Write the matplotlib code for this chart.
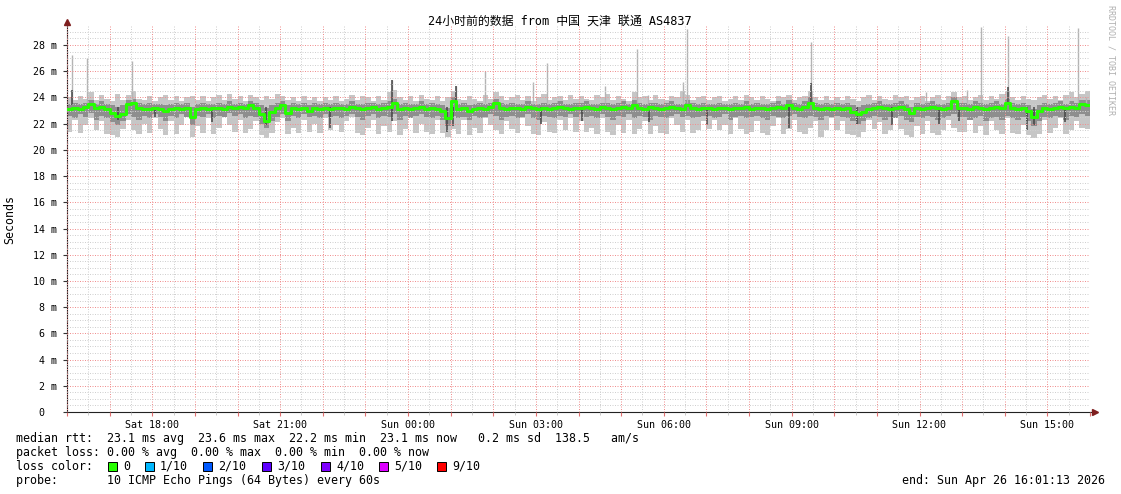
import numpy as np
import matplotlib
matplotlib.use("Agg")
from matplotlib import pyplot as plt
from matplotlib.patches import Rectangle

# --- data (hours after Sat 16:00, one sample every 7.5 min) ---
step_h = 0.125

median = [
    23.1, 23.2, 23.1, 23.3, 23.5, 23.2, 23.3, 23.1, 22.8, 22.6, 22.7, 23.5, 23.6, 23.2, 23.1, 23.1, 23.2, 23.1, 23.0, 23.1, 23.2, 23.1, 23.2, 22.5,
    23.1, 23.2, 23.1, 23.2, 23.2, 23.1, 23.3, 23.2, 23.3, 23.2, 23.4, 23.2, 22.7, 22.2, 22.9, 23.2, 23.4, 22.8, 23.2, 23.1, 23.2, 23.0, 23.2, 23.1,
    23.2, 23.1, 23.2, 23.2, 23.1, 23.3, 23.2, 23.1, 23.2, 23.3, 23.1, 23.2, 23.3, 23.6, 23.1, 23.2, 23.1, 23.2, 23.3, 23.1, 23.2, 23.1, 23.0, 22.4,
    23.7, 23.1, 23.2, 23.0, 23.1, 23.2, 23.1, 23.3, 23.6, 23.2, 23.1, 23.2, 23.2, 23.1, 23.3, 23.2, 23.1, 23.2, 23.1, 23.2, 23.3, 23.2, 23.1, 23.2,
    23.2, 23.3, 23.2, 23.1, 23.3, 23.2, 23.1, 23.2, 23.3, 23.2, 23.4, 23.2, 23.1, 23.3, 23.2, 23.1, 23.2, 23.3, 23.2, 23.1, 23.4, 23.2, 23.1, 23.2,
    23.2, 23.1, 23.2, 23.2, 23.1, 23.2, 23.2, 23.3, 23.1, 23.2, 23.2, 23.1, 23.2, 23.3, 23.2, 23.4, 23.2, 23.1, 23.3, 23.6, 23.2, 23.1, 23.2, 23.1,
    23.2, 23.1, 23.2, 22.9, 22.7, 22.9, 23.1, 23.2, 23.3, 23.2, 23.1, 23.2, 23.3, 23.1, 22.8, 23.2, 23.1, 23.2, 23.3, 23.2, 23.1, 23.2, 23.7, 23.2,
    23.2, 23.1, 23.3, 23.2, 23.1, 23.2, 23.3, 23.2, 23.6, 23.2, 23.1, 23.2, 23.0, 22.5, 23.0, 23.2, 23.1, 23.2, 23.3, 23.2, 23.3, 23.2, 23.5, 23.4,
]

ping_max = [
    24.0, 23.8, 24.1, 23.9, 24.4, 23.8, 24.2, 23.9, 23.7, 24.3, 23.8, 24.2, 24.5, 23.9, 23.8, 24.1, 23.7, 24.0, 24.2, 23.8, 24.1, 23.7, 24.0, 24.1,
    23.8, 24.1, 23.7, 24.0, 24.2, 23.8, 24.3, 23.9, 24.1, 23.7, 24.2, 24.0, 23.8, 24.1, 23.9, 24.3, 24.1, 23.8, 24.0, 23.7, 24.1, 23.8, 24.0, 23.7,
    24.0, 23.8, 24.1, 23.7, 23.9, 24.2, 23.8, 24.1, 24.0, 23.7, 24.1, 23.8, 24.4, 24.6, 24.0, 23.8, 24.1, 23.7, 24.2, 23.9, 23.8, 24.1, 23.7, 24.0,
    24.5, 23.9, 23.8, 24.1, 23.9, 23.7, 24.2, 23.9, 24.4, 24.1, 23.8, 24.0, 24.2, 23.8, 24.1, 23.7, 24.0, 24.3, 23.8, 24.0, 24.1, 23.8, 24.2, 23.9,
    24.1, 23.9, 23.8, 24.2, 24.0, 24.3, 23.8, 24.1, 23.9, 23.7, 24.4, 24.0, 24.1, 23.8, 24.2, 23.9, 23.8, 24.1, 24.0, 24.5, 24.2, 23.8, 24.0, 24.1,
    23.8, 24.0, 24.1, 23.7, 23.9, 24.1, 23.8, 24.2, 24.0, 23.8, 24.1, 23.9, 23.7, 24.1, 24.0, 24.2, 23.8, 24.0, 24.1, 24.5, 24.0, 23.8, 24.1, 23.8,
    24.0, 23.8, 24.1, 23.9, 23.7, 24.0, 24.2, 23.8, 24.1, 23.9, 23.8, 24.2, 24.0, 24.1, 23.8, 24.0, 24.1, 23.7, 24.0, 24.2, 23.8, 24.1, 24.4, 24.0,
    24.1, 23.8, 24.0, 24.2, 23.8, 24.1, 23.9, 24.3, 24.5, 24.0, 23.8, 24.1, 23.9, 23.8, 24.0, 24.2, 23.9, 24.1, 23.8, 24.2, 24.4, 24.0, 24.3, 24.5,
]

ping_q3 = [
    23.5, 23.6, 23.5, 23.6, 23.8, 23.5, 23.7, 23.5, 23.4, 23.3, 23.4, 23.8, 23.9, 23.6, 23.5, 23.6, 23.5, 23.5, 23.4, 23.5, 23.6, 23.5, 23.6, 23.3,
    23.5, 23.6, 23.5, 23.5, 23.6, 23.5, 23.7, 23.5, 23.6, 23.5, 23.7, 23.6, 23.4, 23.2, 23.4, 23.6, 23.7, 23.4, 23.6, 23.5, 23.6, 23.4, 23.6, 23.5,
    23.6, 23.5, 23.6, 23.5, 23.5, 23.7, 23.5, 23.5, 23.6, 23.6, 23.5, 23.6, 23.7, 23.9, 23.5, 23.6, 23.5, 23.5, 23.7, 23.5, 23.6, 23.5, 23.4, 23.2,
    24.0, 23.5, 23.6, 23.4, 23.5, 23.6, 23.5, 23.6, 23.9, 23.6, 23.5, 23.6, 23.5, 23.5, 23.7, 23.5, 23.5, 23.6, 23.5, 23.6, 23.7, 23.5, 23.5, 23.6,
    23.6, 23.7, 23.5, 23.5, 23.6, 23.6, 23.5, 23.6, 23.7, 23.5, 23.8, 23.6, 23.5, 23.6, 23.6, 23.5, 23.6, 23.7, 23.5, 23.5, 23.8, 23.6, 23.5, 23.6,
    23.5, 23.5, 23.6, 23.5, 23.5, 23.6, 23.5, 23.7, 23.5, 23.6, 23.5, 23.5, 23.6, 23.7, 23.5, 23.8, 23.6, 23.5, 23.7, 24.0, 23.6, 23.5, 23.6, 23.5,
    23.6, 23.5, 23.6, 23.4, 23.3, 23.4, 23.5, 23.6, 23.7, 23.5, 23.5, 23.6, 23.7, 23.5, 23.3, 23.6, 23.5, 23.6, 23.7, 23.5, 23.5, 23.6, 24.0, 23.6,
    23.6, 23.5, 23.7, 23.6, 23.5, 23.6, 23.7, 23.5, 23.9, 23.6, 23.5, 23.6, 23.4, 23.1, 23.4, 23.6, 23.5, 23.6, 23.7, 23.5, 23.7, 23.6, 23.8, 23.8,
]

ping_q1 = [
    22.6, 22.4, 22.7, 22.5, 22.8, 22.3, 22.6, 22.4, 22.1, 21.9, 22.2, 22.7, 22.5, 22.3, 22.6, 22.4, 22.7, 22.5, 22.2, 22.6, 22.4, 22.7, 22.5, 21.9,
    22.6, 22.5, 22.7, 22.4, 22.6, 22.5, 22.8, 22.6, 22.7, 22.4, 22.6, 22.5, 22.0, 21.7, 22.2, 22.5, 22.7, 22.2, 22.6, 22.4, 22.7, 22.5, 22.6, 22.4,
    22.7, 22.5, 22.6, 22.4, 22.6, 22.7, 22.5, 22.3, 22.6, 22.7, 22.4, 22.6, 22.5, 22.7, 22.3, 22.6, 22.4, 22.6, 22.7, 22.5, 22.4, 22.6, 22.3, 21.8,
    22.6, 22.4, 22.5, 22.3, 22.6, 22.4, 22.5, 22.7, 22.6, 22.3, 22.5, 22.6, 22.4, 22.5, 22.7, 22.4, 22.3, 22.6, 22.5, 22.4, 22.6, 22.5, 22.7, 22.5,
    22.7, 22.5, 22.6, 22.4, 22.7, 22.5, 22.3, 22.6, 22.5, 22.7, 22.4, 22.6, 22.5, 22.3, 22.6, 22.5, 22.4, 22.6, 22.7, 22.5, 22.6, 22.4, 22.5, 22.6,
    22.6, 22.4, 22.5, 22.7, 22.3, 22.5, 22.6, 22.4, 22.5, 22.6, 22.4, 22.3, 22.6, 22.5, 22.4, 22.6, 22.7, 22.5, 22.4, 22.6, 22.5, 22.3, 22.6, 22.5,
    22.6, 22.5, 22.4, 22.2, 22.0, 22.2, 22.4, 22.6, 22.5, 22.3, 22.5, 22.4, 22.6, 22.3, 22.1, 22.5, 22.4, 22.6, 22.5, 22.3, 22.4, 22.6, 22.7, 22.5,
    22.5, 22.3, 22.4, 22.6, 22.2, 22.4, 22.5, 22.3, 22.6, 22.4, 22.3, 22.5, 22.2, 21.8, 22.2, 22.5, 22.4, 22.6, 22.5, 22.3, 22.6, 22.5, 22.7, 22.6,
]

ping_min = [
    21.4, 22.3, 21.3, 21.9, 22.4, 21.5, 22.2, 21.2, 21.1, 21.0, 21.6, 22.3, 21.5, 21.2, 22.0, 21.3, 22.4, 21.6, 21.1, 22.2, 21.2, 21.9, 22.5, 21.0,
    21.8, 21.3, 22.4, 21.2, 21.7, 22.5, 21.9, 21.4, 22.3, 21.3, 21.6, 22.2, 21.1, 20.9, 21.3, 22.1, 22.4, 21.2, 21.7, 21.3, 22.3, 21.4, 22.0, 21.3,
    22.4, 21.5, 21.9, 21.4, 22.2, 22.5, 21.3, 21.1, 21.7, 22.3, 21.2, 21.8, 21.4, 22.2, 21.1, 21.6, 22.4, 21.3, 22.0, 21.4, 21.2, 22.3, 21.3, 21.0,
    21.6, 21.2, 22.3, 21.1, 21.7, 21.3, 22.4, 21.9, 21.5, 21.2, 22.2, 21.6, 21.3, 22.4, 21.8, 21.2, 21.1, 22.1, 21.4, 21.3, 22.3, 21.5, 22.4, 21.4,
    22.2, 21.4, 21.7, 21.2, 22.4, 21.4, 21.1, 21.9, 21.3, 22.3, 21.2, 21.6, 22.2, 21.2, 21.8, 21.3, 21.2, 22.4, 21.9, 21.4, 22.3, 21.3, 21.5, 22.2,
    21.6, 22.3, 21.5, 21.9, 21.2, 22.4, 21.6, 21.2, 21.4, 22.2, 21.3, 21.1, 21.8, 22.4, 21.2, 21.6, 22.3, 21.4, 21.2, 21.7, 22.2, 21.0, 21.5, 22.4,
    21.5, 22.2, 21.2, 21.1, 21.0, 21.4, 22.3, 21.6, 22.1, 21.2, 21.5, 22.4, 21.6, 21.1, 21.0, 21.8, 21.2, 22.2, 21.3, 21.1, 21.5, 22.3, 21.7, 21.4,
    21.4, 22.3, 21.3, 21.8, 21.1, 22.2, 21.5, 21.2, 22.4, 21.3, 21.2, 21.9, 21.1, 20.9, 21.2, 22.3, 21.3, 21.7, 22.4, 21.2, 21.5, 22.2, 21.7, 21.6,
]

# single slow pings sticking out above the smoke
spike_t   = [0.12, 0.47, 1.52, 7.62, 9.12, 9.80, 10.94, 11.27, 12.63, 13.38, 13.62, 14.46, 14.55, 17.46, 20.15, 21.12, 21.44, 22.08, 23.72, 23.90]
spike_top = [27.25, 27.0, 26.8, 25.3, 24.9, 26.0, 25.2, 26.6, 24.9, 27.7, 24.2, 25.2, 29.2, 28.2, 24.4, 24.6, 29.4, 28.7, 29.3, 24.0]

# dark streaks inside the smoke
dark_t  = [0.12, 1.20, 2.06, 3.40, 4.66, 6.16, 7.62, 7.62, 8.91, 9.05, 9.12, 11.13, 12.09, 13.66, 15.02, 16.94, 17.46, 18.54, 19.36, 20.46, 20.93, 22.08, 22.52, 22.69, 23.41]
dark_lo = [23.4, 22.3, 22.5, 22.1, 21.9, 21.7, 22.2, 23.4, 21.4, 21.8, 23.4, 22.0, 22.2, 22.1, 21.9, 21.7, 23.4, 22.0, 21.9, 22.0, 22.2, 23.4, 21.5, 21.9, 22.1]
dark_hi = [24.6, 23.3, 23.3, 23.3, 23.3, 23.3, 23.3, 25.3, 23.3, 23.3, 24.9, 23.3, 23.3, 23.3, 23.3, 23.3, 25.1, 23.3, 23.3, 23.3, 23.3, 24.8, 23.3, 23.3, 23.3]

tick_hours  = [2, 5, 8, 11, 14, 17, 20, 23]
tick_labels = ["Sat 18:00", "Sat 21:00", "Sun 00:00", "Sun 03:00",
               "Sun 06:00", "Sun 09:00", "Sun 12:00", "Sun 15:00"]

loss_labels = ["0", "1/10", "2/10", "3/10", "4/10", "5/10", "9/10"]
loss_colors = ["#26ff00", "#00b8ff", "#0059ff", "#5e00ff", "#7e00ff", "#dd00ff", "#ff0000"]

title = "24小时前的数据 from 中国 天津 联通 AS4837"
stats_lines = [
    "median rtt:  23.1 ms avg  23.6 ms max  22.2 ms min  23.1 ms now   0.2 ms sd  138.5   am/s",
    "packet loss: 0.00 % avg  0.00 % max  0.00 % min  0.00 % now",
]
probe_text = "probe:       10 ICMP Echo Pings (64 Bytes) every 60s"
end_text = "end: Sun Apr 26 16:01:13 2026"

# ---------------------------------------------------------
W, H = 1121, 494
MONO = "DejaVu Sans Mono"
plt.rcParams["font.family"] = [MONO, "Noto Sans CJK SC"]

fig = plt.figure(figsize=(W / 100, H / 100), dpi=100)
fig.patch.set_facecolor("white")
ax = fig.add_axes([67 / W, 1 - 412 / H, (1090 - 67) / W, (412 - 26) / H])

n = len(median)
x = np.arange(n + 1) * step_h

def ext(a):
    return np.append(a, a[-1])

# smoke
ax.fill_between(x, ext(ping_min), ext(ping_max), step="post", color="#c6c6c6", lw=0, zorder=1)
ax.fill_between(x, ext(ping_q1), ext(ping_q3), step="post", color="#8e8e8e", lw=0, zorder=1.1)
ax.vlines(spike_t, 23.6, spike_top, color="#b4b4b4", lw=1.0, zorder=1.2)
ax.vlines(dark_t, dark_lo, dark_hi, color="#444444", lw=1.1, zorder=1.3)

# median coloured by loss (all zero loss here)
ax.step(x, ext(median), where="post", color=loss_colors[0], lw=2.2, zorder=3)

ax.set_xlim(0, 24)
ax.set_ylim(0, 29.45)

# grid
ax.set_xticks(np.arange(0, 25, 1))
ax.set_xticks(np.arange(0.5, 24, 1), minor=True)
ax.set_xticklabels([tick_labels[tick_hours.index(h)] if h in tick_hours else "" for h in range(25)])
ax.set_yticks(np.arange(0, 29, 2))
ax.set_yticks(np.arange(0, 29.5, 0.5), minor=True)
ax.set_yticklabels(["0  "] + ["%d m" % v for v in range(2, 29, 2)])

ax.set_axisbelow(False)
ax.grid(which="major", color="#f09090", lw=0.72, linestyle=(0, (1, 1.5)), zorder=2)
ax.grid(which="minor", color="#d0d0d0", lw=0.72, linestyle=(0, (1, 1.5)), zorder=2)

ax.tick_params(axis="both", which="both", labelsize=7.2, colors="#000000")
ax.tick_params(axis="x", which="major", length=3, color="#e07070", pad=3)
ax.tick_params(axis="x", which="minor", length=2, color="#c0c0c0")
ax.tick_params(axis="y", which="major", length=3, color="#333333", pad=4)
ax.tick_params(axis="y", which="minor", length=0)

for s in ["top", "right"]:
    ax.spines[s].set_visible(False)
for s in ["left", "bottom"]:
    ax.spines[s].set_color("#222222")
    ax.spines[s].set_linewidth(0.8)

# axis arrows
ax.plot([1.0, 1.004], [0, 0], transform=ax.transAxes, color="#222222", lw=0.8, clip_on=False)
ax.plot([0], [1.01], transform=ax.transAxes, marker="^", ms=4, color="#7f1f1f", clip_on=False)
ax.plot([1.0045], [0], transform=ax.transAxes, marker=">", ms=4, color="#7f1f1f", clip_on=False)

# texts
fig.text(560 / W, 1 - 21 / H, title, ha="center", va="center", fontsize=8.6,
         family=[MONO, "Noto Sans CJK SC"])
fig.text(10 / W, 1 - 219 / H, "Seconds", rotation=90, ha="center", va="center", fontsize=8.4)
fig.text(1111 / W, 1 - 5 / H, "RRDTOOL / TOBI OETIKER", rotation=270, ha="center", va="top",
         fontsize=6, color="#b0b0b0")

fig.text(16 / W, 1 - 438 / H, stats_lines[0], ha="left", va="center", fontsize=8.4)
fig.text(16 / W, 1 - 452 / H, stats_lines[1], ha="left", va="center", fontsize=8.4)
fig.text(16 / W, 1 - 466 / H, "loss color:", ha="left", va="center", fontsize=8.4)
sq_x  = [108, 145, 203, 262, 321, 379, 437]
for sx, lab, col in zip(sq_x, loss_labels, loss_colors):
    fig.add_artist(Rectangle((sx / W, 1 - 471 / H), 9 / W, 9 / H, transform=fig.transFigure,
                             facecolor=col, edgecolor="#000000", lw=0.7))
    fig.text((sx + 15) / W, 1 - 466 / H, lab, ha="left", va="center", fontsize=8.4)
fig.text(16 / W, 1 - 480 / H, probe_text, ha="left", va="center", fontsize=8.4)
fig.text(1105 / W, 1 - 480 / H, end_text, ha="right", va="center", fontsize=8.4)

fig.savefig("out.png", dpi=100, facecolor="white")
